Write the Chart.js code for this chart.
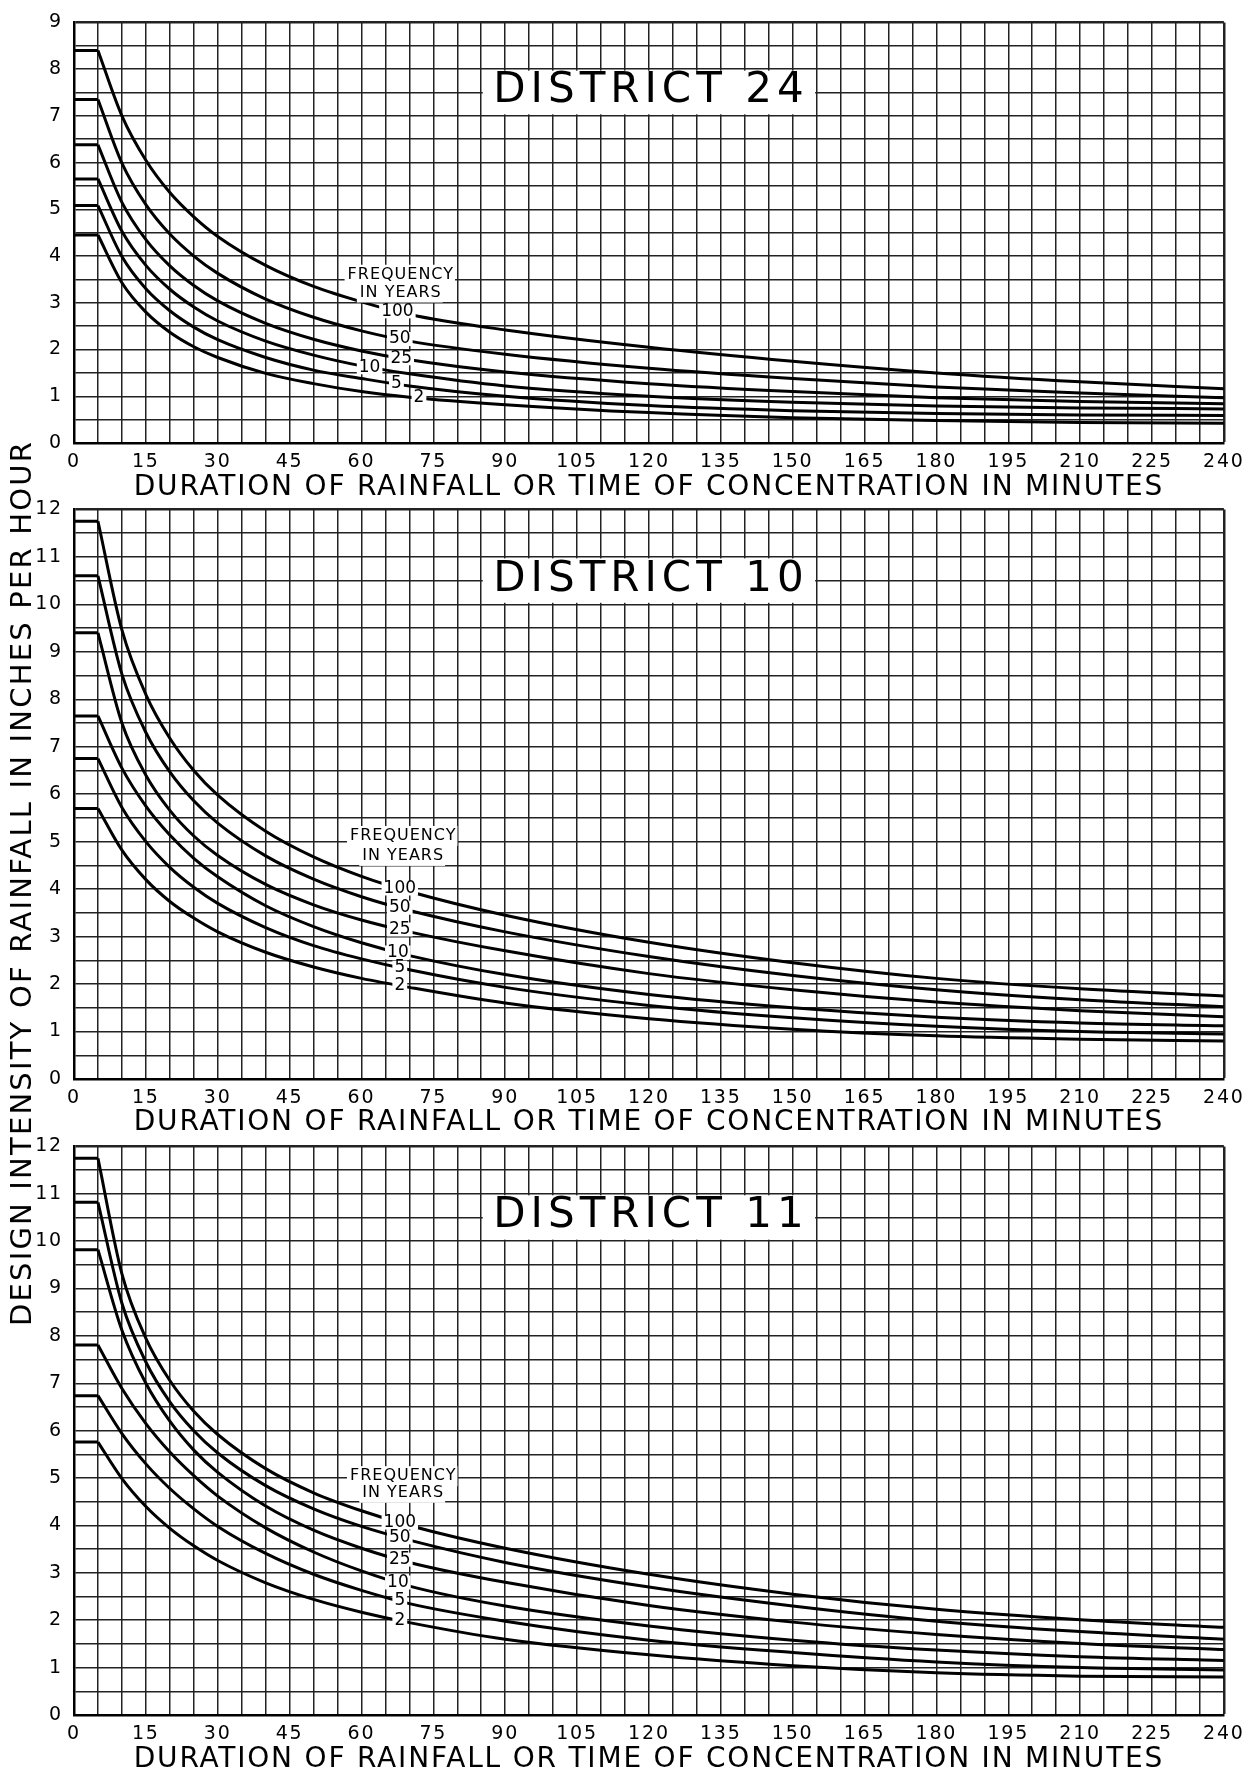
<!DOCTYPE html>
<html>
<head>
<meta charset="utf-8">
<script src="https://cdn.jsdelivr.net/npm/chart.js@4.4.0/dist/chart.umd.min.js"></script>
<style>
  body { margin: 0; background: #fff; width: 1250px; height: 1775px; position: relative; overflow: hidden; font-family: "DejaVu Sans", sans-serif; }
  canvas { position: absolute; left: 0; }
  #ytitle { position: absolute; left: 21px; top: 883px; width: 960px; transform: translate(-50%, -50%) rotate(-90deg);
            text-align: center; font-size: 29px; letter-spacing: 2.2px; white-space: nowrap; color: #000; }
</style>
</head>
<body>
<canvas id="d24" width="1250" height="506" style="top:0px"></canvas>
<canvas id="d10" width="1250" height="654" style="top:487px"></canvas>
<canvas id="d11" width="1250" height="654" style="top:1124px"></canvas>
<div id="ytitle">DESIGN INTENSITY OF RAINFALL IN INCHES PER HOUR</div>

<script>
/* rainfall intensity (in/hr) */
var minutes = [0, 5, 10, 15, 20, 25, 30, 40, 50, 60, 70, 90, 120, 150, 180, 210, 240];
var frequencies = ["100", "50", "25", "10", "5", "2"];

var d24_100 = [8.4, 8.4, 7.0, 6.05, 5.36, 4.84, 4.42, 3.80, 3.35, 3.02, 2.75, 2.42, 2.05, 1.75, 1.5, 1.31, 1.16];
var d24_50  = [7.35, 7.35, 5.99, 5.1, 4.47, 4.0, 3.63, 3.08, 2.69, 2.40, 2.18, 1.9, 1.6, 1.38, 1.2, 1.07, 0.97];
var d24_25  = [6.38, 6.38, 5.15, 4.35, 3.79, 3.37, 3.04, 2.56, 2.22, 1.97, 1.78, 1.52, 1.27, 1.1, 0.97, 0.89, 0.84];
var d24_10  = [5.65, 5.65, 4.53, 3.8, 3.29, 2.91, 2.61, 2.18, 1.88, 1.65, 1.48, 1.22, 1.0, 0.87, 0.79, 0.75, 0.73];
var d24_5   = [5.08, 5.08, 3.99, 3.3, 2.83, 2.48, 2.21, 1.83, 1.56, 1.38, 1.22, 1.0, 0.8, 0.69, 0.63, 0.6, 0.59];
var d24_2   = [4.45, 4.45, 3.43, 2.8, 2.37, 2.06, 1.83, 1.49, 1.27, 1.10, 0.98, 0.82, 0.65, 0.54, 0.48, 0.44, 0.42];

var d10_100 = [11.75, 11.75, 9.46, 8.1, 7.18, 6.5, 5.98, 5.22, 4.68, 4.27, 3.95, 3.45, 2.88, 2.45, 2.12, 1.9, 1.75];
var d10_50  = [10.6, 10.6, 8.53, 7.3, 6.47, 5.86, 5.39, 4.70, 4.21, 3.84, 3.55, 3.1, 2.58, 2.18, 1.88, 1.67, 1.52];
var d10_25  = [9.4, 9.4, 7.5, 6.4, 5.66, 5.12, 4.71, 4.10, 3.67, 3.35, 3.1, 2.7, 2.22, 1.88, 1.62, 1.44, 1.31];
var d10_10  = [7.65, 7.65, 6.55, 5.75, 5.14, 4.65, 4.26, 3.65, 3.21, 2.87, 2.6, 2.2, 1.78, 1.5, 1.3, 1.18, 1.12];
var d10_5   = [6.75, 6.75, 5.72, 5.0, 4.46, 4.04, 3.70, 3.19, 2.81, 2.53, 2.3, 1.93, 1.55, 1.29, 1.11, 1.0, 0.95];
var d10_2   = [5.7, 5.7, 4.82, 4.2, 3.74, 3.39, 3.10, 2.67, 2.36, 2.12, 1.93, 1.6, 1.27, 1.05, 0.91, 0.84, 0.8];

var d11_100 = [11.75, 11.75, 9.31, 7.95, 7.06, 6.41, 5.92, 5.20, 4.69, 4.31, 4.0, 3.52, 2.97, 2.55, 2.23, 2.01, 1.85];
var d11_50  = [10.82, 10.82, 8.69, 7.45, 6.61, 6.0, 5.53, 4.84, 4.35, 3.98, 3.69, 3.22, 2.7, 2.3, 1.98, 1.76, 1.6];
var d11_25  = [9.82, 9.82, 8.12, 7.0, 6.2, 5.59, 5.12, 4.41, 3.9, 3.52, 3.22, 2.8, 2.31, 1.96, 1.7, 1.51, 1.38];
var d11_10  = [7.81, 7.81, 6.89, 6.15, 5.55, 5.05, 4.62, 3.95, 3.44, 3.04, 2.72, 2.3, 1.88, 1.58, 1.37, 1.23, 1.15];
var d11_5   = [6.74, 6.74, 5.94, 5.3, 4.78, 4.35, 3.98, 3.41, 2.97, 2.63, 2.35, 1.98, 1.58, 1.32, 1.12, 1.0, 0.95];
var d11_2   = [5.76, 5.76, 4.99, 4.4, 3.94, 3.57, 3.26, 2.79, 2.44, 2.17, 1.95, 1.6, 1.27, 1.04, 0.89, 0.82, 0.8];

var FONT = '"DejaVu Sans", sans-serif';
Chart.defaults.font.family = FONT;
Chart.defaults.color = "#000";

/* flat part (0-5 min) and curved part are separate so the knee stays sharp */
function buildDatasets(series) {
  var sets = [];
  series.forEach(function (s) {
    sets.push({
      data: [{x: minutes[0], y: s[0]}, {x: minutes[1], y: s[1]}],
      borderColor: "#000", borderWidth: 3, pointRadius: 0, tension: 0
    });
    sets.push({
      data: minutes.slice(1).map(function (m, i) { return {x: m, y: s[i + 1]}; }),
      borderColor: "#000", borderWidth: 3, pointRadius: 0, cubicInterpolationMode: "monotone"
    });
  });
  return sets;
}

function valueAt(s, t) {
  for (var i = 1; i < minutes.length; i++) {
    if (t <= minutes[i]) {
      var f = (t - minutes[i - 1]) / (minutes[i] - minutes[i - 1]);
      return s[i - 1] + f * (s[i] - s[i - 1]);
    }
  }
  return s[s.length - 1];
}

/* wider lettering for the axis titles, like the hand lettered original */
var lettering = {
  id: "lettering",
  beforeDraw: function (chart) { chart.ctx.letterSpacing = "1.8px"; },
  afterDraw: function (chart) { chart.ctx.letterSpacing = "0px"; }
};

/* district title box, "frequency in years" header and curve labels */
var chartNotes = {
  id: "chartNotes",
  afterDatasetsDraw: function (chart, args, opts) {
    var ctx = chart.ctx, xs = chart.scales.x, ys = chart.scales.y;
    ctx.save();
    ctx.textAlign = "center";
    ctx.textBaseline = "middle";

    var bx1 = xs.getPixelForValue(opts.boxX[0]) + 1.5, bx2 = xs.getPixelForValue(opts.boxX[1]) - 1.5;
    var by1 = ys.getPixelForValue(opts.boxY[1]) + 1.5, by2 = ys.getPixelForValue(opts.boxY[0]) - 1.5;
    ctx.fillStyle = "#fff";
    ctx.fillRect(bx1, by1, bx2 - bx1, by2 - by1);
    ctx.fillStyle = "#000";
    ctx.font = "42px " + FONT;
    ctx.letterSpacing = "5px";
    ctx.fillText(opts.title, (bx1 + bx2) / 2 + 2, (by1 + by2) / 2 - 1);

    ctx.font = "16px " + FONT;
    ctx.letterSpacing = "1px";
    opts.header.forEach(function (h) {
      var hx = xs.getPixelForValue(opts.headerT), hy = ys.getPixelForValue(h[1]);
      var w = ctx.measureText(h[0]).width;
      ctx.fillStyle = "#fff";
      ctx.fillRect(hx - w / 2 - 2, hy - 10, w + 4, 20);
      ctx.fillStyle = "#000";
      ctx.fillText(h[0], hx + 1, hy);
    });

    ctx.font = "17px " + FONT;
    ctx.letterSpacing = "0px";
    opts.series.forEach(function (s, k) {
      var t = opts.labelT[k];
      var px = xs.getPixelForValue(t), py = ys.getPixelForValue(valueAt(s, t));
      var w = ctx.measureText(frequencies[k]).width;
      ctx.fillStyle = "#fff";
      ctx.fillRect(px - w / 2 - 2, py - 7, w + 4, 14);
      ctx.fillStyle = "#000";
      ctx.fillText(frequencies[k], px, py);
    });
    ctx.restore();
  }
};

function makeChart(id, series, yMax, areaBottom, notes) {
  var canvas = document.getElementById(id);
  var H = canvas.height;
  notes.series = series;
  return new Chart(canvas, {
    type: "line",
    data: { datasets: buildDatasets(series) },
    plugins: [lettering, chartNotes],
    options: {
      responsive: false,
      animation: false,
      events: [],
      layout: { padding: { top: 15, right: 24, left: 0, bottom: 0 } },
      plugins: { legend: { display: false }, tooltip: { enabled: false }, chartNotes: notes },
      scales: {
        x: {
          type: "linear", min: 0, max: 240,
          afterFit: function (s) { s.height = H - areaBottom; },
          ticks: {
            stepSize: 5, autoSkip: false, maxRotation: 0, padding: 8,
            font: { size: 19 },
            callback: function (v) { return v % 15 === 0 ? v : ""; }
          },
          grid: {
            drawTicks: false, color: "#222",
            lineWidth: function (c) { return (c.tick.value === 240) ? 2.5 : 1.5; }
          },
          border: { color: "#000", width: 2.5 },
          title: {
            display: true, text: "DURATION OF RAINFALL OR TIME OF CONCENTRATION IN MINUTES",
            font: { size: 28 }, padding: { top: 0, bottom: 1 }
          }
        },
        y: {
          min: 0, max: yMax,
          afterFit: function (s) { s.width = 74; },
          ticks: {
            stepSize: 0.5, autoSkip: false, padding: 11, font: { size: 19 },
            callback: function (v) { return v % 1 === 0 ? v : ""; }
          },
          grid: {
            drawTicks: false, color: "#222",
            lineWidth: function (c) { return (c.tick.value === yMax) ? 2.5 : 1.5; }
          },
          border: { color: "#000", width: 2.5 }
        }
      }
    }
  });
}

makeChart("d24", [d24_100, d24_50, d24_25, d24_10, d24_5, d24_2], 9, 443, {
  title: "DISTRICT 24", boxX: [85, 155], boxY: [7, 8],
  headerT: 68, header: [["FREQUENCY", 3.6], ["IN YEARS", 3.22]],
  labelT: [67.5, 68, 68.3, 61.7, 67.3, 72]
});
makeChart("d10", [d10_100, d10_50, d10_25, d10_10, d10_5, d10_2], 12, 592, {
  title: "DISTRICT 10", boxX: [85, 155], boxY: [10, 11],
  headerT: 68.5, header: [["FREQUENCY", 5.12], ["IN YEARS", 4.7]],
  labelT: [68, 68, 68, 67.6, 68, 68]
});
makeChart("d11", [d11_100, d11_50, d11_25, d11_10, d11_5, d11_2], 12, 591, {
  title: "DISTRICT 11", boxX: [85, 155], boxY: [10, 11],
  headerT: 68.5, header: [["FREQUENCY", 5.04], ["IN YEARS", 4.69]],
  labelT: [68, 68, 68, 67.6, 68, 68]
});
</script>
</body>
</html>
